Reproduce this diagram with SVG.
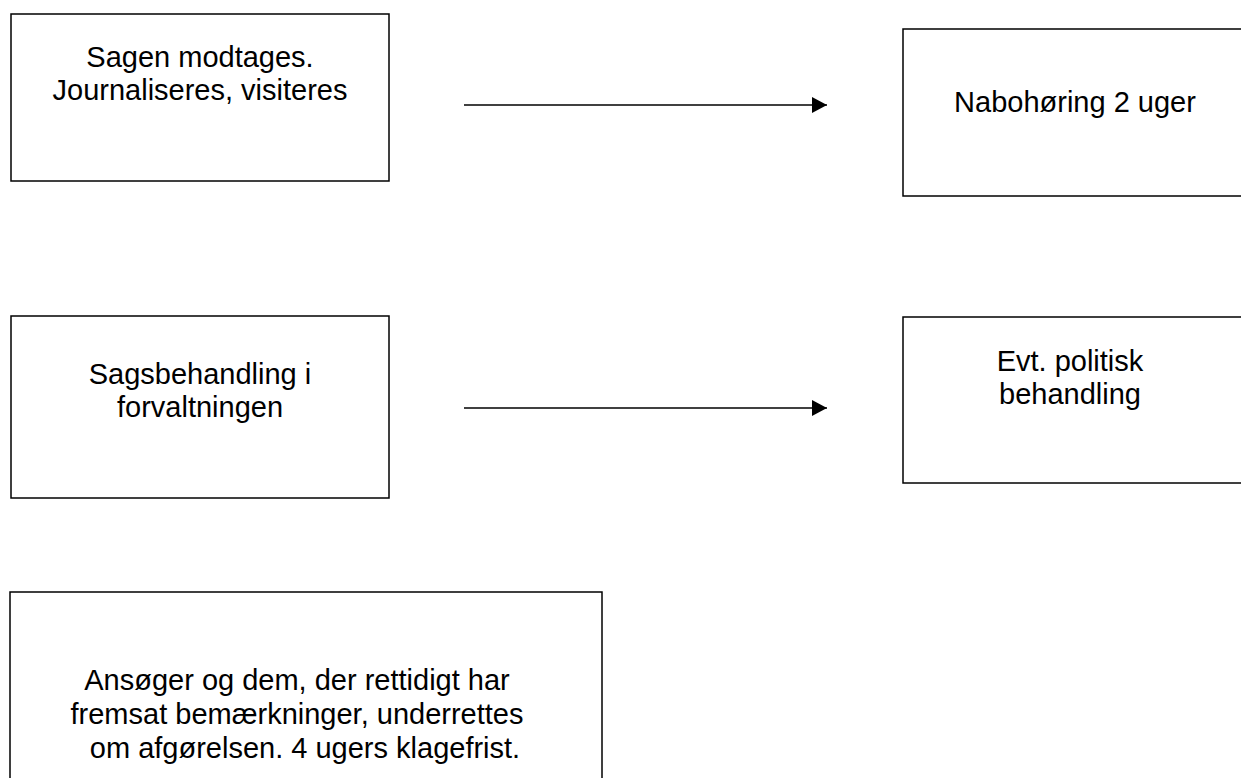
<svg xmlns="http://www.w3.org/2000/svg" width="1241" height="778" viewBox="0 0 1241 778">
<defs>
<style>
.box{fill:#fff;stroke:#000;stroke-width:1.5}
.t{font-family:"Liberation Sans",Arial,sans-serif;font-size:29px;fill:#000;text-anchor:middle}
.c{stroke:#000;stroke-width:1.5;fill:none}
</style>
<marker id="ah" markerUnits="userSpaceOnUse" markerWidth="16" markerHeight="16" refX="15" refY="8" orient="auto">
<path d="M0,0 L15,8 L0,16 Z" fill="#000"/>
</marker>
</defs>
<rect width="1241" height="778" fill="#fff"/>
<g id="n1">
<rect class="box" x="11" y="14" width="378" height="167"/>
<text class="t" x="200" y="67">Sagen modtages.</text>
<text class="t" x="200" y="100">Journaliseres, visiteres</text>
</g>
<g id="n2">
<rect class="box" x="903" y="29" width="345" height="167"/>
<text class="t" x="1075" y="112">Nabohøring 2 uger</text>
</g>
<g id="n3">
<rect class="box" x="11" y="316" width="378" height="182"/>
<text class="t" x="200" y="384">Sagsbehandling i</text>
<text class="t" x="200" y="417">forvaltningen</text>
</g>
<g id="n4">
<rect class="box" x="903" y="317" width="345" height="166"/>
<text class="t" x="1070" y="371">Evt. politisk</text>
<text class="t" x="1070" y="404">behandling</text>
</g>
<g id="n5">
<rect class="box" x="10" y="592" width="592" height="200"/>
<text class="t" x="297" y="690">Ansøger og dem, der rettidigt har</text>
<text class="t" x="297" y="724">fremsat bemærkninger, underrettes</text>
<text class="t" x="305" y="758">om afgørelsen. 4 ugers klagefrist.</text>
</g>
<g id="connectors">
<line class="c" x1="464" y1="105" x2="827" y2="105" marker-end="url(#ah)"/>
<line class="c" x1="464" y1="408" x2="827" y2="408" marker-end="url(#ah)"/>
</g>
</svg>
